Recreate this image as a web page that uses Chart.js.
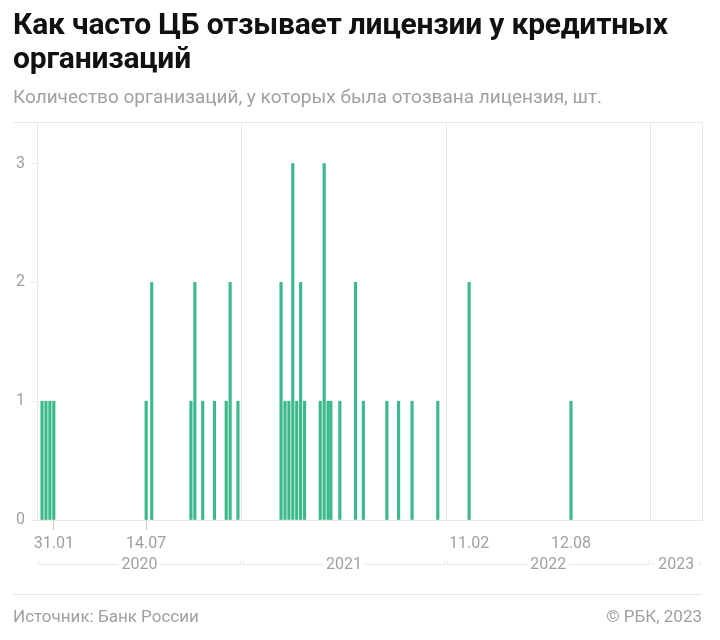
<!DOCTYPE html>
<html lang="ru">
<head>
<meta charset="utf-8">
<script src="https://cdn.jsdelivr.net/npm/chart.js@4.4.1/dist/chart.umd.min.js"></script>
<style>
  html, body { margin: 0; padding: 0; background: #fff; }
  #wrap { position: relative; width: 720px; height: 640px; overflow: hidden; font-family: Roboto, "Noto Sans", sans-serif; }
  #chart { position: absolute; left: 0; top: 0; }
  .title { position: absolute; left: 13px; top: 7px; font-weight: 700; font-size: 30px; line-height: 34px; color: #111; letter-spacing: -0.2px; }
  .subtitle { position: absolute; left: 13px; top: 85px; font-size: 19px; color: #a0a0a0; }
  .footer-line { position: absolute; left: 13px; top: 594px; width: 689px; border-top: 1px solid #e6e6e6; }
  .source { position: absolute; left: 13px; top: 606px; font-size: 17px; color: #a0a0a0; }
  .copy { position: absolute; right: 18px; top: 606px; font-size: 17px; color: #a0a0a0; }
</style>
</head>
<body>
<div id="wrap">
  <canvas id="chart" width="720" height="640"></canvas>
  <div class="title">Как часто ЦБ отзывает лицензии у кредитных<br>организаций</div>
  <div class="subtitle">Количество организаций, у которых была отозвана лицензия, шт.</div>
  <div class="footer-line"></div>
  <div class="source">Источник: Банк России</div>
  <div class="copy">© РБК, 2023</div>
</div>
<script>
// revocation dates and how many licences were revoked that day
const revocationDates = [
    '2020-01-10', '2020-01-17', '2020-01-24', '2020-01-31',
    '2020-07-14', '2020-07-24', '2020-10-02', '2020-10-09', '2020-10-23',
    '2020-11-13', '2020-12-04', '2020-12-11', '2020-12-25',
    '2021-03-12', '2021-03-19', '2021-03-26', '2021-04-02', '2021-04-09',
    '2021-04-16', '2021-04-23', '2021-05-21', '2021-05-28', '2021-06-04',
    '2021-06-09', '2021-06-25', '2021-07-23', '2021-08-06', '2021-09-17',
    '2021-10-08', '2021-11-01', '2021-12-17',
    '2022-02-11', '2022-08-12'
];
const revocationCounts = [
    1, 1, 1, 1,
    1, 2, 1, 2, 1,
    1, 1, 2, 1,
    2, 1, 1, 3, 1,
    2, 1, 1, 3, 1,
    1, 1, 2, 1, 1,
    1, 1, 1,
    2, 1
];

// labelled dates under the axis
const dateTickDates = ['2020-01-31', '2020-07-14', '2022-02-11', '2022-08-12'];
const dateTickLabels = ['31.01', '14.07', '11.02', '12.08'];
const tickMarkDates = ['2020-01-31', '2020-07-14'];

const yearLabels = ['2020', '2021', '2022', '2023'];
const yearStarts = ['2020-01-01', '2021-01-01', '2022-01-01', '2023-01-01'];
const axisStart = '2020-01-01';
const axisEnd = '2023-04-03';

const yTicks = [0, 1, 2, 3];
const yMax = 3.35;

const GREEN = '#3bb98a';
const GRAY_TEXT = '#a0a0a0';
const GRID = '#e8e8e8';

function toDay(str) {
    const p = str.split('-').map(Number);
    const base = Date.UTC(2020, 0, 1);
    return Math.round((Date.UTC(p[0], p[1] - 1, p[2]) - base) / 86400000);
}

const points = revocationDates.map((d, i) => ({ x: toDay(d), y: revocationCounts[i] }));
const yearDays = yearStarts.map(toDay);
const labelDays = dateTickDates.map(toDay);
const markDays = tickMarkDates.map(toDay);
const xMin = toDay(axisStart);
const xMax = toDay(axisEnd);

// top rule, year brackets
const decorPlugin = {
    id: 'decor',
    afterDraw(chart) {
        const ctx = chart.ctx;
        const area = chart.chartArea;
        const xs = chart.scales.x;
        ctx.save();
        ctx.strokeStyle = GRID;
        ctx.lineWidth = 1;
        ctx.beginPath();
        ctx.moveTo(13, area.top + 0.5);
        ctx.lineTo(area.right, area.top + 0.5);
        ctx.stroke();

        const y = area.bottom + 44.5;
        ctx.font = '16px Roboto, "Noto Sans", sans-serif';
        ctx.fillStyle = GRAY_TEXT;
        ctx.textAlign = 'center';
        ctx.textBaseline = 'middle';
        yearLabels.forEach((label, i) => {
            const x1 = xs.getPixelForValue(yearDays[i]) + 1.5;
            const endDay = i + 1 < yearDays.length ? yearDays[i + 1] : xMax;
            const x2 = xs.getPixelForValue(endDay) - 1.5;
            const mid = (x1 + x2) / 2;
            const half = ctx.measureText(label).width / 2 + 3;
            ctx.beginPath();
            ctx.moveTo(x1, y - 4);
            ctx.lineTo(x1, y);
            ctx.lineTo(mid - half, y);
            ctx.moveTo(mid + half, y);
            ctx.lineTo(x2, y);
            ctx.lineTo(x2, y - 4);
            ctx.stroke();
            ctx.fillText(label, mid, y + 0.5);
        });
        ctx.restore();
    }
};

new Chart(document.getElementById('chart'), {
    type: 'bar',
    data: {
        datasets: [{
            data: points,
            backgroundColor: GREEN,
            barThickness: 2.5,
            borderWidth: 0
        }]
    },
    options: {
        responsive: false,
        animation: false,
        events: [],
        layout: { padding: { top: 122, right: 18, bottom: 50, left: 0 } },
        plugins: { legend: { display: false }, tooltip: { enabled: false } },
        scales: {
            x: {
                type: 'linear',
                min: xMin,
                max: xMax,
                offset: false,
                afterFit: (scale) => { scale.height = 70; },
                afterBuildTicks: (scale) => {
                    const vals = [...yearDays, xMax, ...labelDays];
                    scale.ticks = vals.sort((a, b) => a - b).map(v => ({ value: v }));
                },
                grid: {
                    offset: false,
                    tickLength: 10,
                    color: (c) => (c.tick && (yearDays.includes(c.tick.value) || c.tick.value === xMax)) ? GRID : 'rgba(0,0,0,0)',
                    tickColor: (c) => (c.tick && markDays.includes(c.tick.value)) ? '#cfcfcf' : 'rgba(0,0,0,0)'
                },
                border: { display: true, color: GRID },
                ticks: {
                    autoSkip: false,
                    maxRotation: 0,
                    padding: 4,
                    color: GRAY_TEXT,
                    font: { family: 'Roboto', size: 16 },
                    callback: (v) => {
                        const i = labelDays.indexOf(v);
                        return i >= 0 ? dateTickLabels[i] : '';
                    }
                }
            },
            y: {
                min: 0,
                max: yMax,
                afterFit: (scale) => { scale.width = 37; },
                afterBuildTicks: (scale) => { scale.ticks = yTicks.map(v => ({ value: v })); },
                grid: { drawOnChartArea: false, tickLength: 6, color: GRID },
                border: { display: true, color: GRID },
                ticks: {
                    padding: 6,
                    color: GRAY_TEXT,
                    font: { family: 'Roboto', size: 16 }
                }
            }
        }
    },
    plugins: [decorPlugin]
});
</script>
</body>
</html>
